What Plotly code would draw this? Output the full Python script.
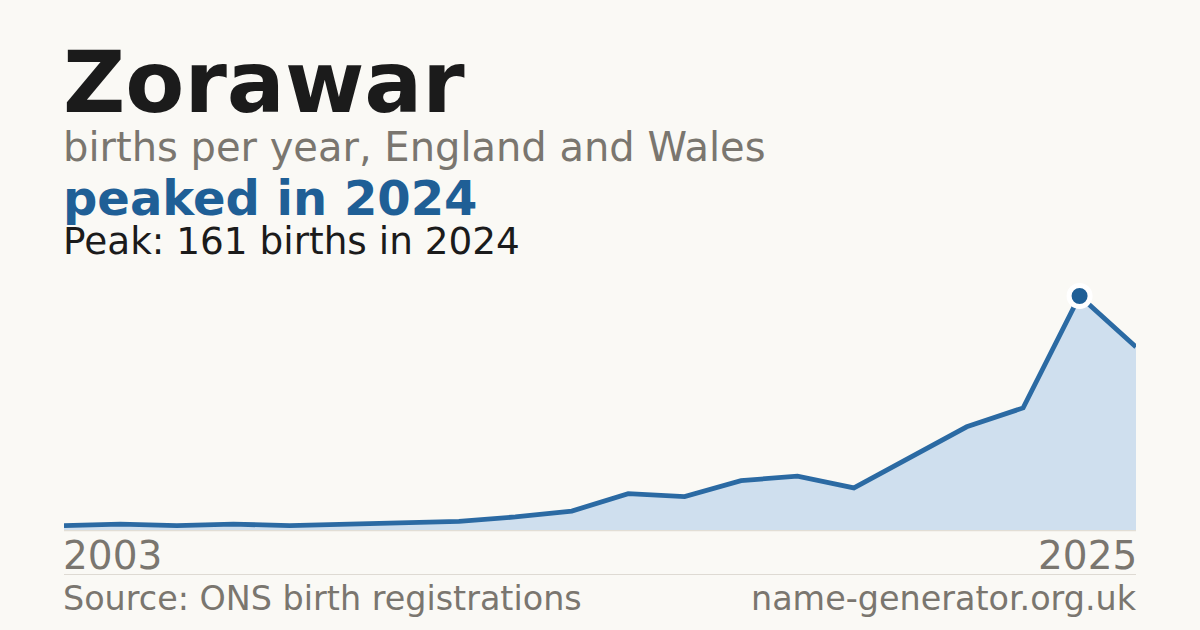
import plotly.graph_objects as go

# ---- data ----
years = [2003, 2005, 2006, 2008, 2010, 2011, 2012, 2013, 2014, 2015,
         2016, 2017, 2018, 2019, 2020, 2021, 2022, 2023, 2024, 2025]
births = [3, 4, 3, 4, 3, 4, 5, 6, 9, 13,
          25, 23, 34, 37, 29, 50, 71, 84, 161, 126]
name = "Zorawar"
subtitle = "births per year, England and Wales"
headline = "peaked in 2024"
peak_note = "Peak: 161 births in 2024"
source = "Source: ONS birth registrations"
site = "name-generator.org.uk"

W, H = 1200, 630
BG = "#faf9f5"
GRAY = "#7a766f"
BLUE = "#1f5f96"
LINE = "#2b6aa3"
FILL = "#cfdfee"
FONT = "DejaVu Sans"

peak_i = max(range(len(births)), key=lambda i: births[i])
xcat = [str(y) for y in years]

def py(px):  # pixel (from top) -> paper y
    return (H - px) / H

def pxx(px):
    return px / W

fig = go.Figure()
fig.add_trace(go.Scatter(
    x=xcat, y=births, mode="lines", fill="tozeroy",
    fillcolor=FILL, line=dict(color=LINE, width=4.8),
    hoverinfo="skip", showlegend=False))
fig.add_trace(go.Scatter(
    x=[xcat[peak_i]], y=[births[peak_i]], mode="markers",
    marker=dict(color=BLUE, size=21, line=dict(color="#ffffff", width=5)),
    hoverinfo="skip", showlegend=False, cliponaxis=False))

y0_px, ytop_px = 530, 280
peak_px = 296
ymax = births[peak_i] * (y0_px - ytop_px) / (y0_px - peak_px)

fig.update_layout(
    width=W, height=H, paper_bgcolor=BG, plot_bgcolor=BG,
    margin=dict(l=0, r=0, t=0, b=0),
    xaxis=dict(type="category", range=[0, len(xcat) - 1], domain=[pxx(64), pxx(1136)],
               showgrid=False, zeroline=False, showticklabels=False, showline=False),
    yaxis=dict(range=[0, ymax], domain=[py(y0_px), py(ytop_px)],
               showgrid=False, zeroline=False, showticklabels=False, showline=False),
    font=dict(family=FONT),
)

shapes = [
    dict(type="line", xref="paper", yref="paper", x0=pxx(64), x1=pxx(1136),
         y0=py(530.5), y1=py(530.5), line=dict(color="#e2ded5", width=1.5), layer="below"),
    dict(type="line", xref="paper", yref="paper", x0=pxx(64), x1=pxx(1136),
         y0=py(574.5), y1=py(574.5), line=dict(color="#dedad3", width=1)),
]
fig.update_layout(shapes=shapes)

def ann(text, x_px, baseline_px, size, color, bold=False, anchor="left"):
    center = baseline_px - 0.346 * size
    fig.add_annotation(
        text=f"<b>{text}</b>" if bold else text,
        xref="paper", yref="paper", x=pxx(x_px), y=py(center),
        xanchor=anchor, yanchor="middle", showarrow=False, borderpad=0,
        font=dict(family=FONT, size=size, color=color))

ann(name, 62, 111.7, 86, "#1b1b1b", bold=True)
ann(subtitle, 62, 161, 40, GRAY)
ann(headline, 62, 215, 48, BLUE, bold=True)
ann(peak_note, 62, 254, 37.4, "#1b1b1b")
ann(str(years[0]), 62, 569.3, 39, GRAY)
ann(str(years[-1]), 1138, 569.3, 39, GRAY, anchor="right")
ann(source, 62, 610, 33.4, GRAY)
ann(site, 1138, 610, 33.4, GRAY, anchor="right")

fig.write_html(
    "out.html",
    config={"displayModeBar": False, "staticPlot": True},
    post_script="document.body.style.margin='0';document.body.style.background='%s';" % BG,
)
